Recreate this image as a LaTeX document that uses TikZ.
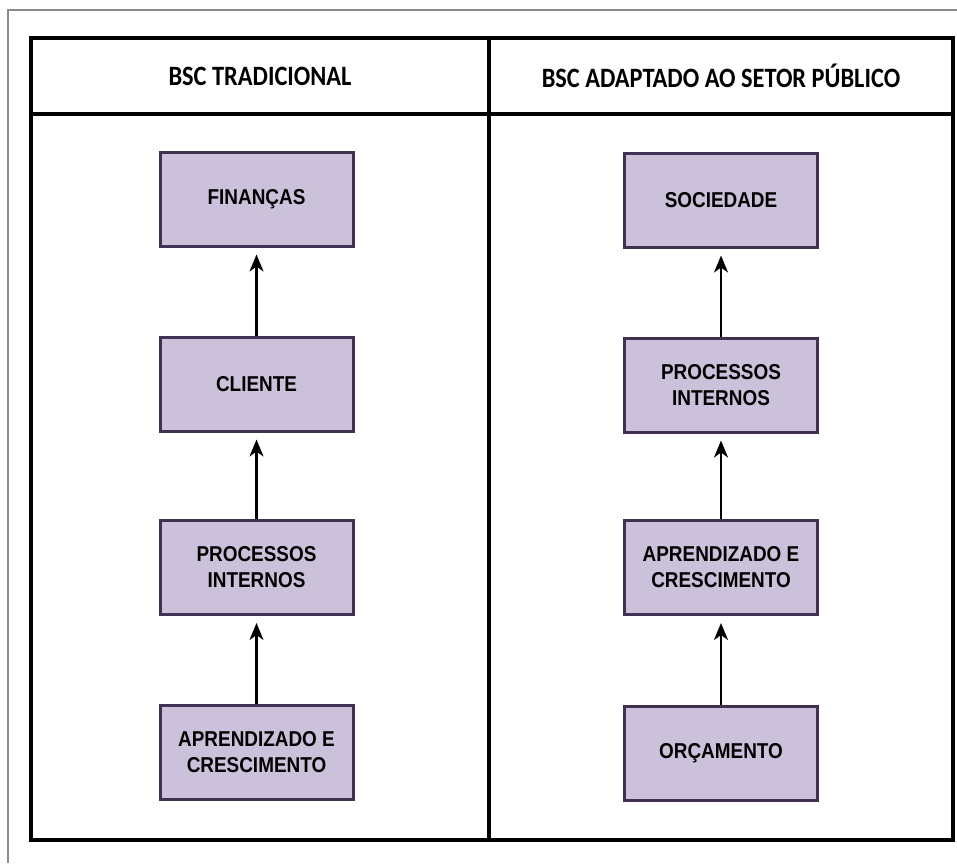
\documentclass[tikz,border=0pt]{standalone}
\usepackage{fontspec}
\usetikzlibrary{arrows.meta}
\newfontfamily\boxfont[FakeStretch=0.88]{Liberation Sans}
\newfontfamily\hdrfont[FakeStretch=0.87]{Carlito}
\definecolor{boxfill}{HTML}{CCC1DA}
\definecolor{boxedge}{HTML}{403152}
\definecolor{framegray}{HTML}{8A8A8A}
\tikzset{
  pbox/.style={draw=boxedge, fill=boxfill, line width=3pt, minimum width=193pt, minimum height=94pt,
    inner sep=0pt, align=center, font=\boxfont\bfseries\fontsize{21.5}{26}\selectfont},
  hdr/.style={font=\hdrfont\bfseries\fontsize{28}{32}\selectfont, inner sep=0pt},
  uparrow/.style={line width=2.2pt, -{Stealth[length=17pt,width=14pt,inset=5pt]}, shorten >=7pt}
}
\begin{document}
\begin{tikzpicture}[x=1pt,y=-1pt]
\useasboundingbox (0,0) rectangle (957,863);
% outer gray frame (top and left only)
\draw[framegray, line width=1.5pt] (957,10) -- (8,10) -- (8,863);
% table
\draw[line width=3.5pt, line join=miter] (31,38) rectangle (953,840);
\draw[line width=3.5pt] (31,114) -- (953,114);
\draw[line width=3.5pt] (489,38) -- (489,840);
% headers
\node[hdr] (h1) at (260,76) {BSC TRADICIONAL};
\node[hdr] (h2) at (721,76) {BSC ADAPTADO AO SETOR PÚBLICO};
% left column
\node[pbox] (l1) at (256.5,199) {FINANÇAS};
\node[pbox] (l2) at (256.5,384) {CLIENTE};
\node[pbox] (l3) at (256.5,567.5) {PROCESSOS\\INTERNOS};
\node[pbox] (l4) at (256.5,752) {APRENDIZADO E\\CRESCIMENTO};
% right column
\node[pbox] (r1) at (721,200) {SOCIEDADE};
\node[pbox] (r2) at (721,385) {PROCESSOS\\INTERNOS};
\node[pbox] (r3) at (721,567.5) {APRENDIZADO E\\CRESCIMENTO};
\node[pbox] (r4) at (721,753.5) {ORÇAMENTO};
% arrows
\draw[uparrow] (l4.north) -- (l3.south);
\draw[uparrow] (l3.north) -- (l2.south);
\draw[uparrow] (l2.north) -- (l1.south);
\draw[uparrow] (r4.north) -- (r3.south);
\draw[uparrow] (r3.north) -- (r2.south);
\draw[uparrow] (r2.north) -- (r1.south);
\end{tikzpicture}
\end{document}
